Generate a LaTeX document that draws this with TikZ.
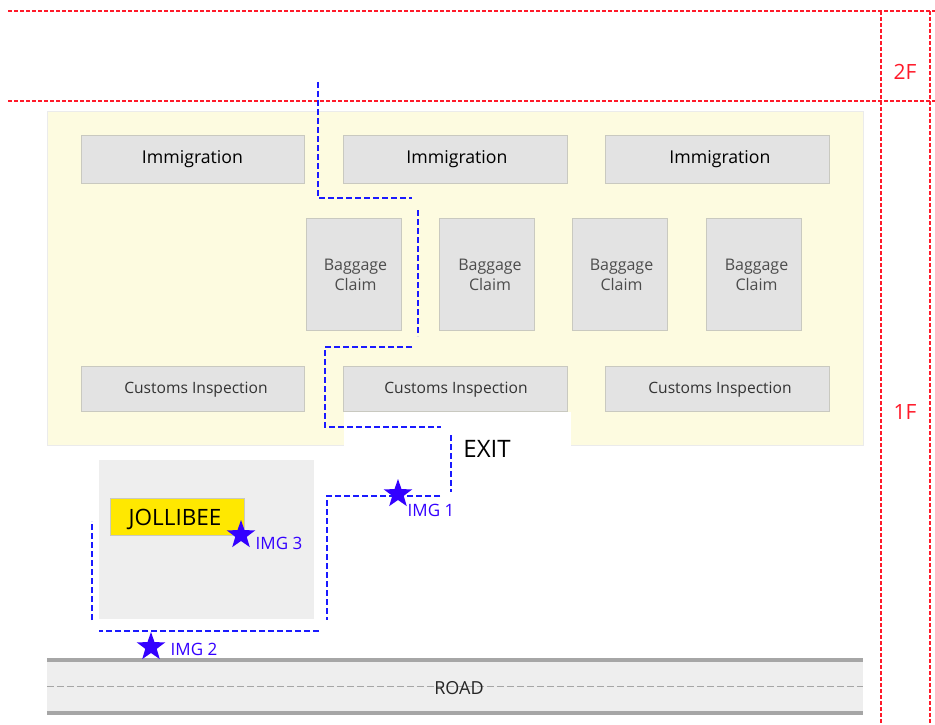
\documentclass[tikz,border=0pt]{standalone}
\usepackage{fontspec}
\setmainfont{Open Sans}
\usetikzlibrary{positioning}
\usetikzlibrary{shapes.geometric}
\definecolor{zoneyellow}{HTML}{FDFBE0}
\definecolor{boxgray}{HTML}{E3E3E3}
\definecolor{boxline}{HTML}{C9C9C0}
\definecolor{shopgray}{HTML}{EEEEEE}
\definecolor{shopyellow}{HTML}{FFE800}
\definecolor{routeblue}{HTML}{1A1AFF}
\definecolor{markblue}{HTML}{3300FF}
\definecolor{floorred}{HTML}{FF1A2A}

\begin{document}
\begin{tikzpicture}[
            x = 1pt,
            y = -1pt,
            node distance = 39pt, % gap between desks
            floor/.style = {draw = floorred, line width = 1.7pt, dash pattern = on 4pt off 2pt},
            route/.style = {draw = routeblue, line width = 2.2pt, dash pattern = on 6pt off 3pt},
            desk/.style = {draw = boxline, fill = boxgray, outer sep = 0pt, inner sep = 0pt, minimum width = 223.5pt, minimum height = 48pt, font = \fontsize{17.7}{20}\selectfont},
            bag/.style = {draw = boxline, fill = boxgray, outer sep = 0pt, inner sep = 0pt, minimum width = 95pt, minimum height = 112pt, align = center, text = black!70, font = \fontsize{16}{20}\selectfont},
            customs/.style = {desk, minimum height = 45pt, text = black!80, font = \fontsize{15.6}{18}\selectfont}
        ]
        \tikzset{
            spot/.style = {star, star points = 5, star point ratio = 2.5, fill = markblue, inner sep = 0pt, minimum size = 30pt},
            spotlabel/.style = {text = markblue, inner sep = 0pt, font = \fontsize{17}{18}\selectfont}
        }
        \useasboundingbox (0,0) rectangle (935,725);

	% ARRIVAL HALL
        \node[fill = zoneyellow, draw = black!8, minimum width = 816pt, minimum height = 334pt, inner sep = 0pt] (HALL) at (455,278) {};

        \node[desk] (I1) at (192.5,159) {Immigration};
        \node[desk] (I2) [right=of I1] {\hspace{4pt}Immigration};
        \node[desk] (I3) [right=38.5pt of I2] {\hspace{6pt}Immigration};

        \node[bag] (B1) at (353.5,274.5) {\hspace{4pt}Baggage\\\hspace{4pt}Claim};
        \node[bag] (B2) [right=38.5pt of B1] {\hspace{6pt}Baggage\\\hspace{6pt}Claim};
        \node[bag] (B3) [right=38pt of B2] {\hspace{3pt}Baggage\\\hspace{3pt}Claim};
        \node[bag] (B4) [right=39pt of B3] {\hspace{5pt}Baggage\\\hspace{5pt}Claim};

        \node[customs] (C1) at (192.5,388.5) {\hspace{7pt}\raisebox{-1.5pt}[\height][\depth]{Customs Inspection}};
        \node[customs] (C2) [right=of C1] {\hspace{2pt}\raisebox{-1.5pt}[\height][\depth]{Customs Inspection}};
        \node[customs] (C3) [right=38.5pt of C2] {\hspace{6pt}\raisebox{-1.5pt}[\height][\depth]{Customs Inspection}};

        \node[fill = white, minimum width = 227pt, minimum height = 36pt, inner sep = 0pt] (GAP) at (457,429.5) {};
        \node[inner sep = 0pt, font = \fontsize{24}{26}\selectfont] (EXIT) at (487,449) {EXIT};

	% SHOP
        \node[fill = shopgray, minimum width = 215pt, minimum height = 159pt, inner sep = 0pt] (SHOP) at (206.5,539.5) {};
        \node[draw = boxline, fill = shopyellow, minimum width = 134pt, minimum height = 37pt, inner sep = 0pt, font = \fontsize{22.5}{24}\selectfont] (JOL) at (177,516.5) {\hspace{-4pt}\raisebox{-3pt}[\height][\depth]{JOLLIBEE}};

	% ROAD
        \node[fill = shopgray, minimum width = 816pt, minimum height = 53pt, inner sep = 0pt] (ROAD) at (455,686.5) {};
        \draw[black!35, line width = 4pt] (ROAD.north west) -- (ROAD.north east);
        \draw[black!35, line width = 4pt] (ROAD.south west) -- (ROAD.south east);
        \draw[black!35, line width = 1pt, dash pattern = on 7pt off 3pt] (ROAD.west) -- (ROAD.east);
        \node[inner sep = 0pt, text = black!85, font = \fontsize{18}{20}\selectfont] (RT) at (459,688) {ROAD};

	% FLOOR LINES
        \coordinate (F1) at (8,11);
        \coordinate (F2) at (935,11);
        \coordinate (F3) at (8,101);
        \coordinate (F4) at (935,101);
        \coordinate (F5) at (881,11);
        \coordinate (F6) at (881,725);
        \coordinate (F7) at (930,11);
        \coordinate (F8) at (930,725);
        \draw[floor] (F1) -- (F2);
        \draw[floor] (F3) -- (F4);
        \draw[floor] (F5) -- (F6);
        \draw[floor] (F7) -- (F8);
        \node[inner sep = 0pt, text = floorred, font = \fontsize{21}{24}\selectfont] (L2) at (905,72) {2F};
        \node[inner sep = 0pt, text = floorred, font = \fontsize{21}{24}\selectfont] (L1) at (905,412) {1F};

	% WALKING ROUTE
        \coordinate (R1) at (318,82);
        \coordinate (R2) at (318,198);
        \coordinate (R3) at (412,198);
        \coordinate (R4) at (418,210);
        \coordinate (R5) at (418,336);
        \coordinate (R6) at (412,347);
        \coordinate (R7) at (325,347);
        \coordinate (R8) at (325,427);
        \coordinate (R9) at (441,427);
        \coordinate (R10) at (451,435);
        \coordinate (R11) at (451,492);
        \coordinate (R12) at (440,496);
        \coordinate (R13) at (327,496);
        \coordinate (R14) at (327,620);
        \coordinate (R15) at (319,631);
        \coordinate (R16) at (99,631);
        \coordinate (R17) at (92,620);
        \coordinate (R18) at (92,521);
        \draw[route] (R1) -- (R2) -- (R3);
        \draw[route] (R4) -- (R5);
        \draw[route] (R6) -- (R7) -- (R8) -- (R9);
        \draw[route] (R10) -- (R11);
        \draw[route] (R12) -- (R13) -- (R14);
        \draw[route] (R15) -- (R16);
        \draw[route] (R17) -- (R18);

	% PHOTO SPOTS
        \node[spot] (S1) at (398,494) {};
        \node[spot] (S2) at (151,647) {};
        \node[spot] (S3) at (241,535) {};
        \node[spotlabel] (T1) at (431,510) {IMG 1};
        \node[spotlabel] (T2) at (194,649) {IMG 2};
        \node[spotlabel] (T3) at (279,543) {IMG 3};

  \end{tikzpicture}
\end{document}
